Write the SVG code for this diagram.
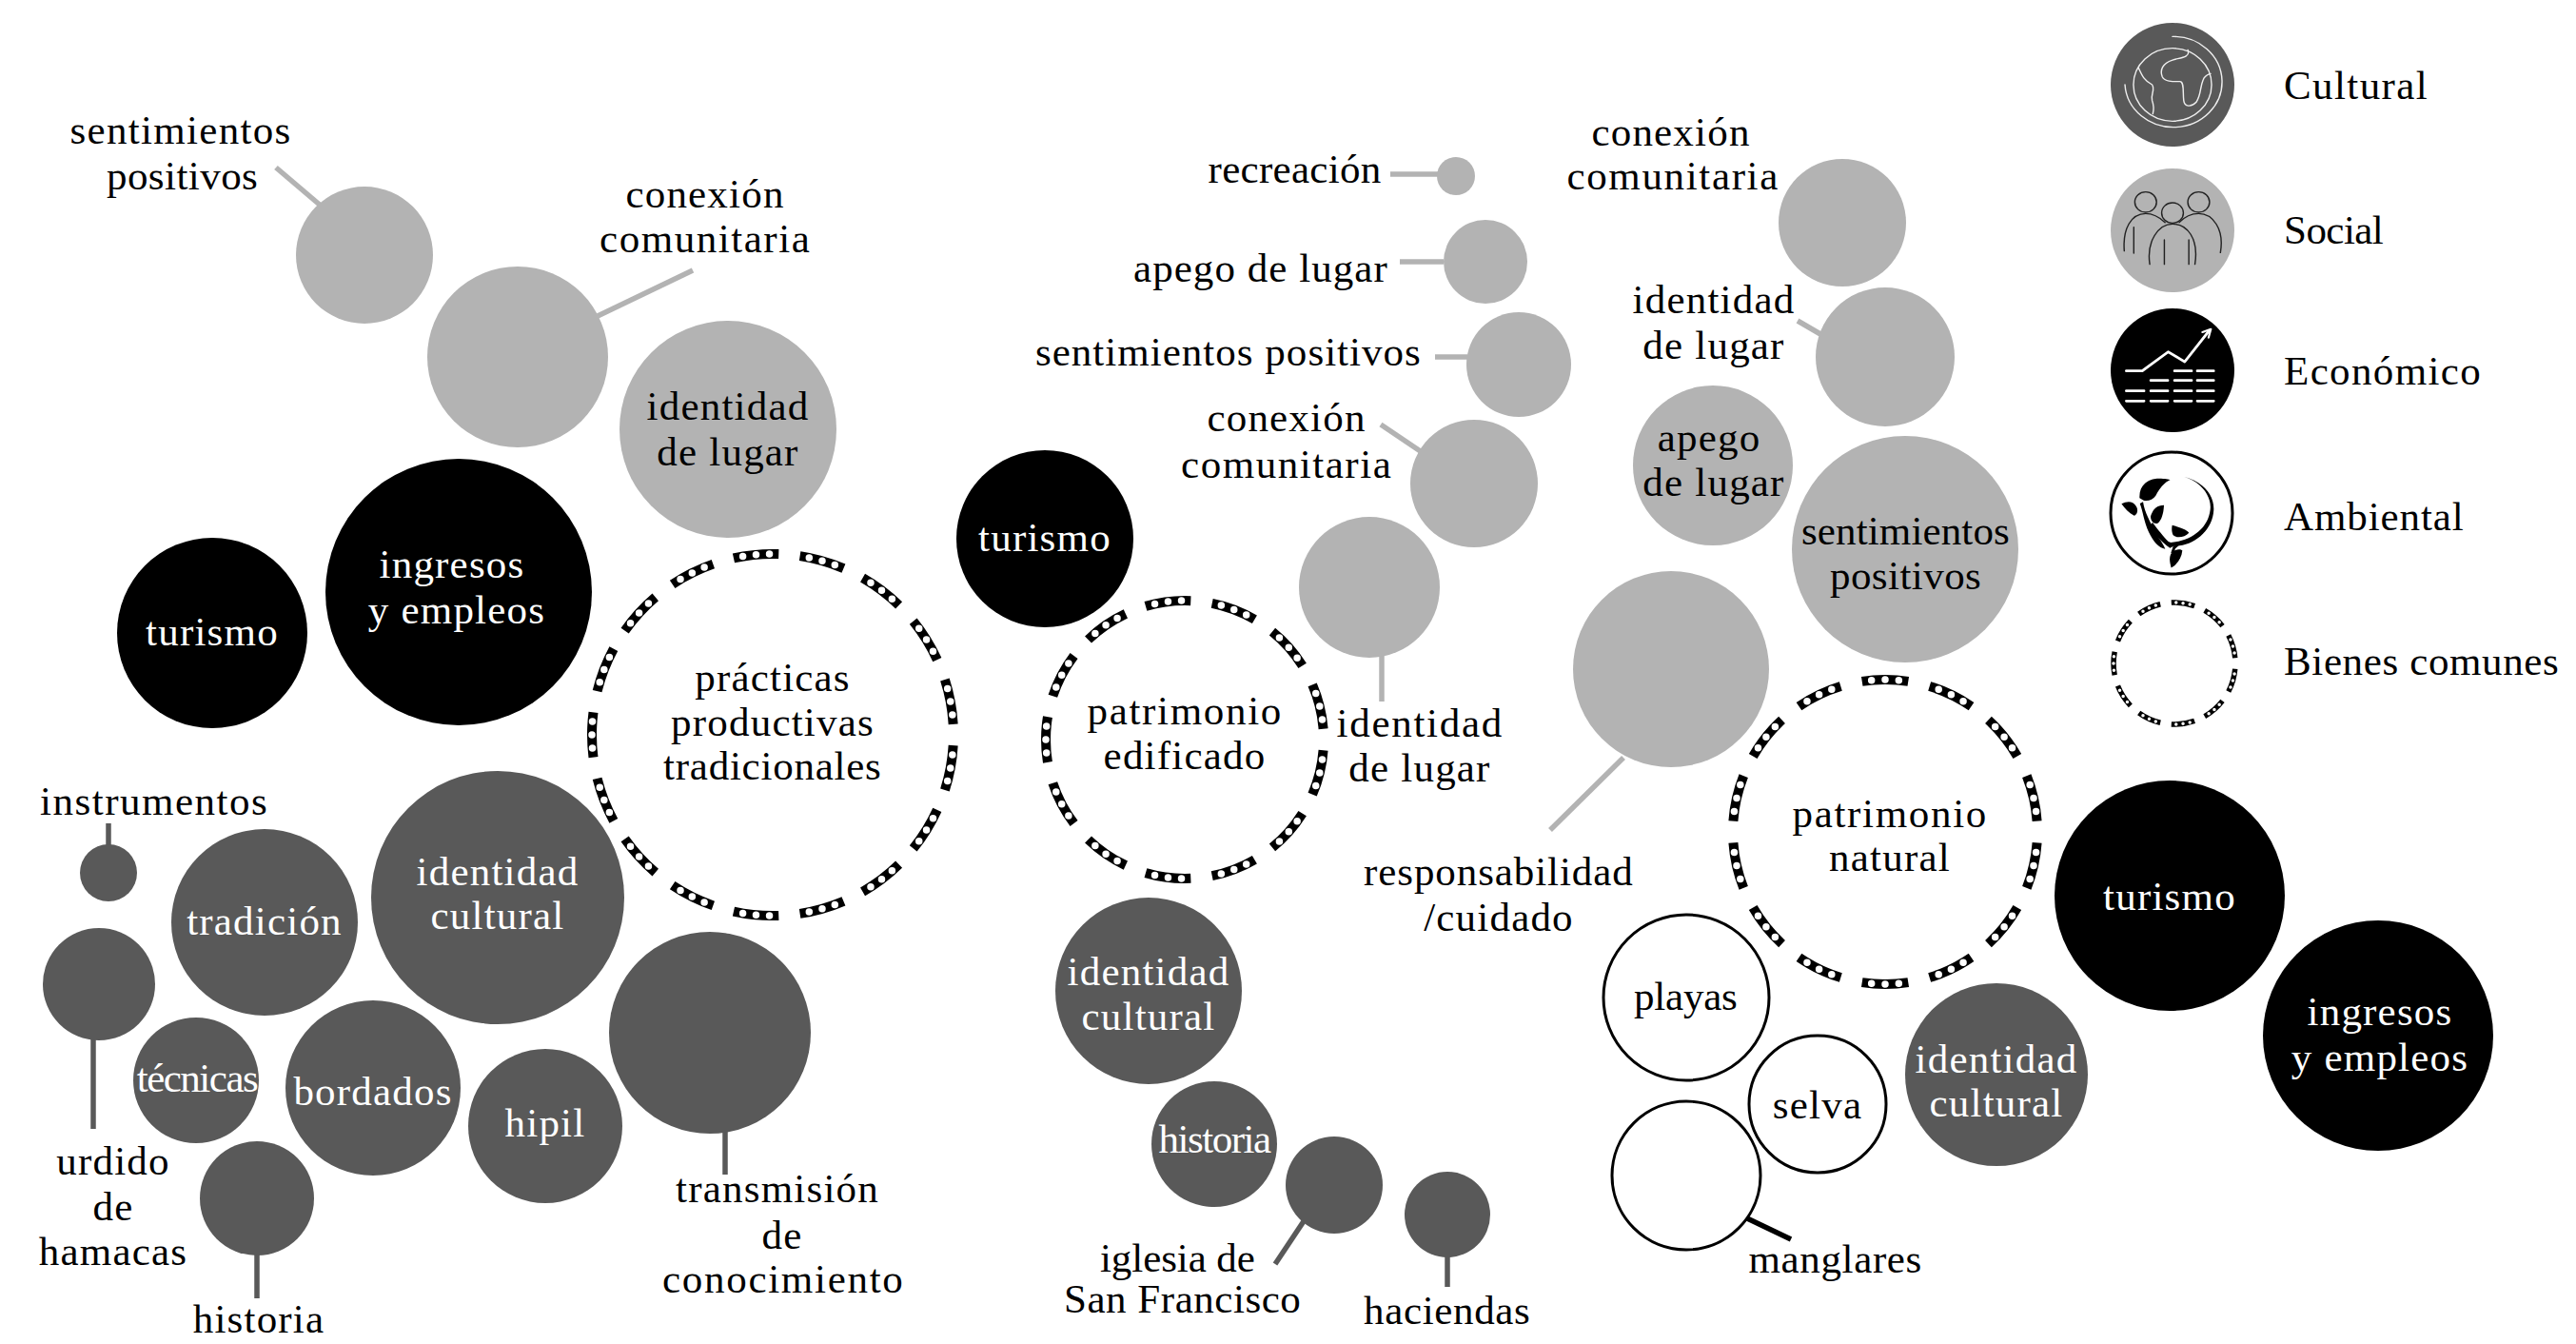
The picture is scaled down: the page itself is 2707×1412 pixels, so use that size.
<svg xmlns="http://www.w3.org/2000/svg" width="2707" height="1412" viewBox="0 0 2707 1412">
<style>
text{font-family:"Liberation Serif","Times New Roman",serif;font-size:43px;letter-spacing:1.2px;text-anchor:middle;fill:#000;transform:translate(0,-1.5px)}
text.w{fill:#fff}
text.l{text-anchor:start}
text.tight{letter-spacing:-1.5px}
.c{fill:#595959}.s{fill:#b3b3b3}.e{fill:#000}
.o{fill:#fff;stroke:#000;stroke-width:3}
.band{fill:none;stroke:#000;stroke-width:10;stroke-dasharray:68 32;stroke-dashoffset:-16}
.dots{fill:none;stroke:#fff;stroke-width:7.5;stroke-linecap:round;stroke-dasharray:0 20 0 20 0 60;stroke-dashoffset:-30}
.small .band{stroke-width:5.5}.small .dots{stroke-width:3.5}
.lc{stroke-width:5.5;fill:none}
.lg{stroke:#b3b3b3}.ld{stroke:#595959}.lk{stroke:#000}
.ic{fill:none;stroke-linecap:round;stroke-linejoin:round}
</style>
<rect width="2707" height="1412" fill="#fff"/>
<g id="connectors" class="lc">
<path class="lg" d="M290 176L337 216"/>
<path class="lg" d="M628 332L728 284"/>
<path class="ld" d="M114 865V895"/>
<path class="ld" d="M98 1085V1186"/>
<path class="ld" d="M270 1310V1364"/>
<path class="ld" d="M762 1185V1234"/>
<path class="lg" d="M1461 183H1512"/>
<path class="lg" d="M1471 275H1517"/>
<path class="lg" d="M1508 375H1542"/>
<path class="lg" d="M1451 446L1494 475"/>
<path class="lg" d="M1452 687V737"/>
<path class="ld" d="M1370 1283L1340 1328"/>
<path class="ld" d="M1521 1315V1352"/>
<path class="lg" d="M1889 337L1913 351"/>
<path class="lg" d="M1706 796L1629 872"/>
<path class="lk" d="M1836 1280L1882 1302"/>
</g>
<g id="izq">
<g id="n-sentimientos-1"><circle class="s" cx="383" cy="268" r="72"/><text x="190" y="152" textLength="233">sentimientos</text><text x="192" y="200" textLength="160">positivos</text></g>
<g id="n-conexion-1"><circle class="s" cx="544" cy="375" r="95"/><text x="741" y="219">conexión</text><text x="741" y="266" textLength="222">comunitaria</text></g>
<g id="n-identidad-lugar-1"><circle class="s" cx="765" cy="451" r="114"/><text x="765" y="442">identidad</text><text x="765" y="490">de lugar</text></g>
<g id="n-ingresos-1"><circle class="e" cx="482" cy="622" r="140"/><text class="w" x="475" y="608">ingresos</text><text class="w" x="480" y="656">y empleos</text></g>
<g id="n-turismo-1"><circle class="e" cx="223" cy="665" r="100"/><text class="w" x="223" y="679">turismo</text></g>
<g id="n-practicas"><circle class="band" cx="812" cy="772" r="190" pathLength="1700"/><circle class="dots" cx="812" cy="772" r="190" pathLength="1700"/><text x="812" y="727">prácticas</text><text x="812" y="774">productivas</text><text x="812" y="820" textLength="230">tradicionales</text></g>
<g id="n-identidad-cultural-1"><circle class="c" cx="523" cy="943" r="133"/><text class="w" x="523" y="931">identidad</text><text class="w" x="523" y="977">cultural</text></g>
<g id="n-tradicion"><circle class="c" cx="278" cy="969" r="98"/><text class="w" x="278" y="983">tradición</text></g>
<g id="n-instrumentos"><circle class="c" cx="114" cy="917" r="30"/><text x="162" y="857" textLength="240">instrumentos</text></g>
<g id="n-urdido"><circle class="c" cx="104" cy="1034" r="59"/><text x="119" y="1235">urdido</text><text x="119" y="1283">de</text><text x="119" y="1330">hamacas</text></g>
<g id="n-tecnicas"><circle class="c" cx="206" cy="1135" r="66"/><text class="w tight" x="207" y="1148">técnicas</text></g>
<g id="n-bordados"><circle class="c" cx="392" cy="1143" r="92"/><text class="w" x="392" y="1162">bordados</text></g>
<g id="n-historia-1"><circle class="c" cx="270" cy="1259" r="60"/><text x="272" y="1401">historia</text></g>
<g id="n-hipil"><circle class="c" cx="573" cy="1183" r="81"/><text class="w" x="573" y="1195">hipil</text></g>
<g id="n-transmision"><circle class="c" cx="746" cy="1085" r="106"/><text x="817" y="1264">transmisión</text><text x="822" y="1313">de</text><text x="823" y="1359" textLength="254">conocimiento</text></g>
</g>
<g id="centro">
<g id="n-recreacion"><circle class="s" cx="1530" cy="185" r="20"/><text x="1361" y="193" textLength="183">recreación</text></g>
<g id="n-apego-2"><circle class="s" cx="1561" cy="275" r="44"/><text x="1325" y="297" textLength="268">apego de lugar</text></g>
<g id="n-sentimientos-2"><circle class="s" cx="1596" cy="383" r="55"/><text x="1291" y="385" textLength="406">sentimientos positivos</text></g>
<g id="n-conexion-2"><circle class="s" cx="1549" cy="508" r="67"/><text x="1352" y="454">conexión</text><text x="1352" y="503" textLength="222">comunitaria</text></g>
<g id="n-identidad-lugar-2"><circle class="s" cx="1439" cy="617" r="74"/><text x="1492" y="775" textLength="175">identidad</text><text x="1492" y="822">de lugar</text></g>
<g id="n-turismo-2"><circle class="e" cx="1098" cy="566" r="93"/><text class="w" x="1098" y="580">turismo</text></g>
<g id="n-edificado"><circle class="band" cx="1245" cy="777" r="146" pathLength="1300"/><circle class="dots" cx="1245" cy="777" r="146" pathLength="1300"/><text x="1245" y="762" textLength="205">patrimonio</text><text x="1245" y="809">edificado</text></g>
<g id="n-identidad-cultural-2"><circle class="c" cx="1207" cy="1041" r="98"/><text class="w" x="1207" y="1036">identidad</text><text class="w" x="1207" y="1083">cultural</text></g>
<g id="n-historia-2"><circle class="c" cx="1276" cy="1202" r="66"/><text class="w tight" x="1276" y="1212">historia</text></g>
<g id="n-iglesia"><circle class="c" cx="1402" cy="1245" r="51"/><text x="1238" y="1337" textLength="164">iglesia de</text><text x="1243" y="1380" textLength="250">San Francisco</text></g>
<g id="n-haciendas"><circle class="c" cx="1521" cy="1276" r="45"/><text x="1521" y="1392" textLength="176">haciendas</text></g>
</g>
<g id="der">
<g id="n-conexion-3"><circle class="s" cx="1936" cy="234" r="67"/><text x="1756" y="154">conexión</text><text x="1758" y="200" textLength="223">comunitaria</text></g>
<g id="n-identidad-lugar-3"><circle class="s" cx="1981" cy="375" r="73"/><text x="1801" y="330">identidad</text><text x="1801" y="378">de lugar</text></g>
<g id="n-apego-3"><circle class="s" cx="1800" cy="489" r="84"/><text x="1796" y="475">apego</text><text x="1801" y="522">de lugar</text></g>
<g id="n-sentimientos-3"><circle class="s" cx="2002" cy="577" r="119"/><text x="2003" y="573" textLength="220">sentimientos</text><text x="2003" y="620" textLength="160">positivos</text></g>
<g id="n-responsabilidad"><circle class="s" cx="1756" cy="703" r="103"/><text x="1575" y="931" textLength="284">responsabilidad</text><text x="1575" y="979">/cuidado</text></g>
<g id="n-natural"><circle class="band" cx="1981" cy="874" r="160" pathLength="1400"/><circle class="dots" cx="1981" cy="874" r="160" pathLength="1400"/><text x="1986" y="870" textLength="205">patrimonio</text><text x="1986" y="916">natural</text></g>
<g id="n-turismo-3"><circle class="e" cx="2280" cy="941" r="121"/><text class="w" x="2280" y="957">turismo</text></g>
<g id="n-ingresos-3"><circle class="e" cx="2499" cy="1088" r="121"/><text class="w" x="2501" y="1078">ingresos</text><text class="w" x="2501" y="1126">y empleos</text></g>
<g id="n-identidad-cultural-3"><circle class="c" cx="2098" cy="1129" r="96"/><text class="w" x="2098" y="1128">identidad</text><text class="w" x="2098" y="1174">cultural</text></g>
<g id="n-playas"><circle class="o" cx="1772" cy="1048" r="87"/><text x="1772" y="1062" textLength="110">playas</text></g>
<g id="n-selva"><circle class="o" cx="1910" cy="1160" r="72"/><text x="1910" y="1176">selva</text></g>
<g id="n-manglares"><circle class="o" cx="1772" cy="1235" r="78"/><text x="1929" y="1338" textLength="183">manglares</text></g>
</g>
<g id="leyenda">
<g id="l-cultural"><circle class="c" cx="2283" cy="89" r="65"/>
<g class="ic" stroke="#eee" stroke-width="4" transform="translate(2283 89) scale(.357 .333)">
<path d="M0-152A143 143 0 1 1-140 0"/><circle r="115"/>
<path d="M45-110C55-85 20-85 0-78C-30-68-38-45-30-25C-22-8 5-10 22-10C35-10 30 25 33 50C35 70 55 72 70 55C85 30 80 10 90-15C95-30 105-32 112-35"/>
<path d="M-100-53C-90-30-85-15-60 0C-50 15-65 30-60 50C-55 65-55 80-58 92"/>
</g><text class="l" x="2400" y="105" textLength="152">Cultural</text></g>
<g id="l-social"><circle class="s" cx="2283" cy="242" r="65"/>
<g class="ic" stroke="#222" stroke-width="4" transform="translate(2283 242) scale(.357 .333)">
<circle cx="-79" cy="-89" r="32"/><circle cx="77" cy="-89" r="32"/><circle cy="-55" r="32"/>
<path d="M-142 65C-147-5-122-53-79-53C-57-53-37-40-22-25"/>
<path d="M141 70C153-5 118-53 77-53C53-53 33-40 20-25"/>
<path d="M-67 107C-77 35-42-20 0-20C43-20 78 25 66 107"/>
<path d="M-114-10V72M-24 30V107M48 30V107"/>
</g><text class="l" x="2400" y="257" textLength="106">Social</text></g>
<g id="l-economico"><circle class="e" cx="2283" cy="389" r="65"/>
<g class="ic" stroke="#fff" stroke-width="8" transform="translate(2283 389) scale(.357 .333)">
<path d="M-136 2H-89L-13-58L36-27L108-125"/>
<path d="M88-120L113-130L106-103" stroke-width="6"/>
<path d="M6 2H56M73 2H121M-64 32H-14M6 32H56M73 32H121M-136 65H-84M-64 65H-14M6 65H56M73 65H121M-136 97H-84M-64 97H-14M6 97H56M73 97H121"/>
</g><text class="l" x="2400" y="405" textLength="208">Económico</text></g>
<g id="l-ambiental"><circle class="o" cx="2282" cy="539" r="64"/>
<g transform="translate(2282 539) scale(.333)" fill="#000">
<path d="M39-115C95-100 135-60 133-10C130 50 80 95 25 103L-5 105L-3 93C60 88 115 50 122-10C128-55 90-100 39-115Z"/>
<path d="M-101-47C-103-85-80-105-46-109C-25-110-8-106-4-105C-25-95-40-75-50-55C-58-42-75-37-88-40Z"/>
<path d="M-158-29C-140-38-122-38-112-22C-104-10-108 5-118 8C-135 0-148-15-158-29Z"/>
<path d="M-66 10C-58-15-45-25-24-25C-25 0-32 25-45 33C-58 35-66 25-66 10Z"/>
<path d="M2 38C25 45 45 50 55 62C42 75 20 82 5 70C0 60 0 48 2 38Z"/>
<path d="M-1 173C-8 150-8 130 5 120C20 112 30 115 34 118C32 140 20 160-1 173Z"/>
<path d="M-100-30C-90-5-88 25-72 60C-58 90-40 110-20 113C-30 90-45 75-55 55C-65 30-85 0-90-35Z"/>
<path d="M-60 30C-45 50-25 75-10 90L15 100L-5 110C-35 90-60 60-70 40Z"/>
<path d="M28 95L40 88L12 112L5 130L-2 125L5 105Z"/>
</g><text class="l" x="2400" y="558" textLength="190">Ambiental</text></g>
<g id="l-bienes" class="small"><circle class="band" cx="2285" cy="697" r="64" pathLength="1100"/><circle class="dots" cx="2285" cy="697" r="64" pathLength="1100"/><text class="l" x="2400" y="710" textLength="290">Bienes comunes</text></g>
</g>
</svg>
